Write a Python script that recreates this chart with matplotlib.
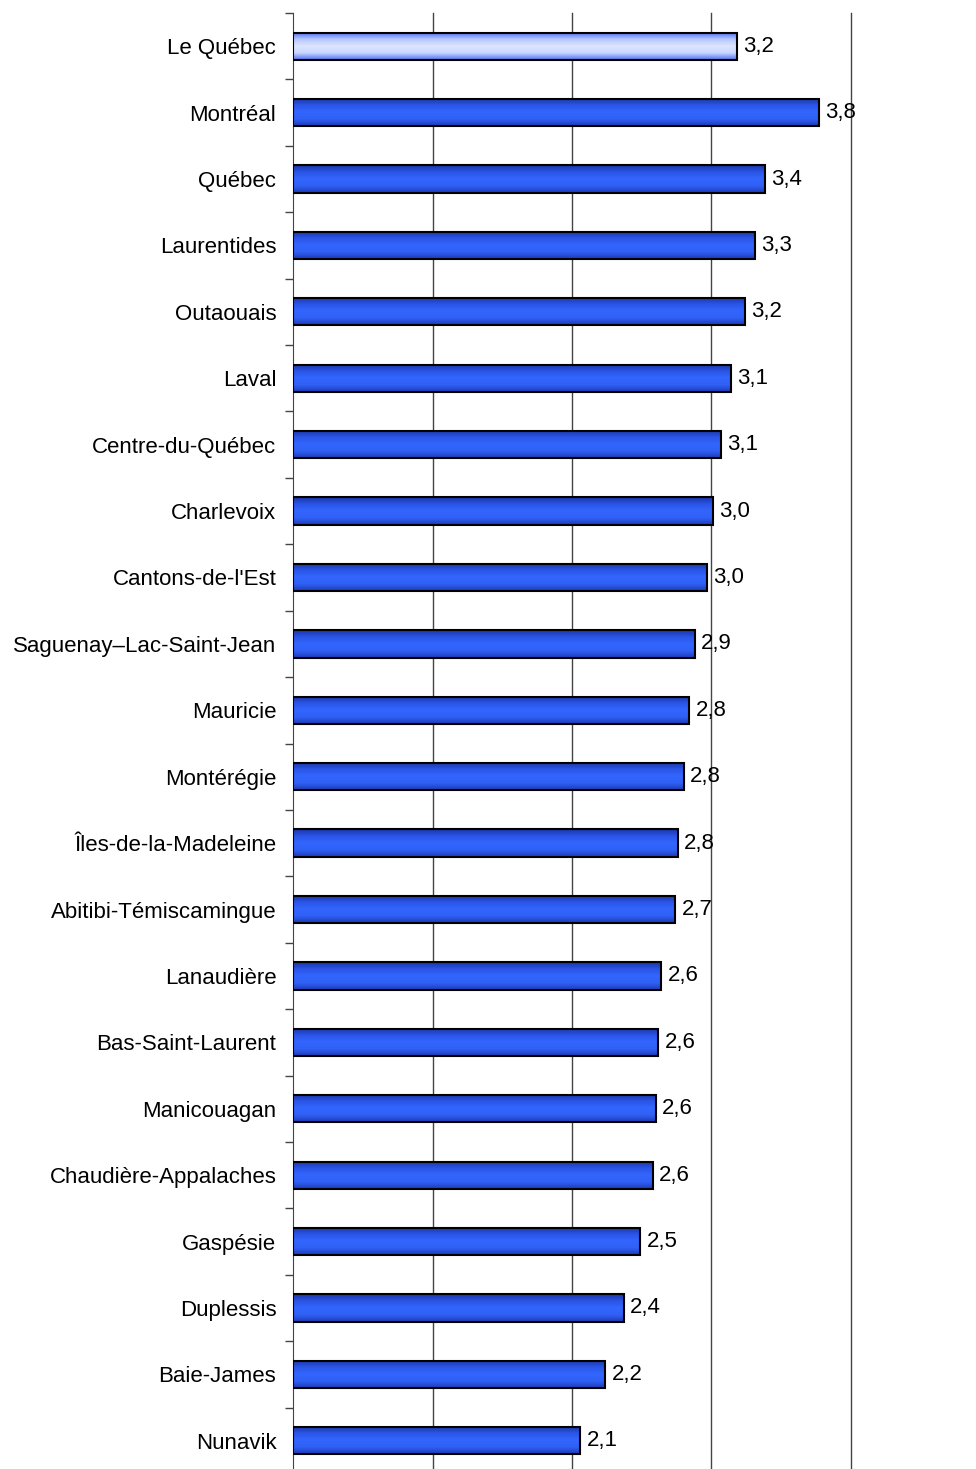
import numpy as np
import matplotlib.pyplot as plt
from matplotlib.colors import LinearSegmentedColormap

regions = ["Le Québec", "Montréal", "Québec", "Laurentides", "Outaouais", "Laval",
           "Centre-du-Québec", "Charlevoix", "Cantons-de-l'Est", "Saguenay–Lac-Saint-Jean",
           "Mauricie", "Montérégie", "Îles-de-la-Madeleine", "Abitibi-Témiscamingue",
           "Lanaudière", "Bas-Saint-Laurent", "Manicouagan", "Chaudière-Appalaches",
           "Gaspésie", "Duplessis", "Baie-James", "Nunavik"]
values = [3.18, 3.77, 3.38, 3.31, 3.24, 3.14, 3.07, 3.01, 2.97, 2.88,
          2.84, 2.80, 2.76, 2.74, 2.64, 2.62, 2.60, 2.58, 2.49, 2.37, 2.24, 2.06]
labels = ["3,2", "3,8", "3,4", "3,3", "3,2", "3,1", "3,1", "3,0", "3,0", "2,9",
          "2,8", "2,8", "2,8", "2,7", "2,6", "2,6", "2,6", "2,6", "2,5", "2,4", "2,2", "2,1"]

plt.rcParams['font.family'] = ['Liberation Sans', 'DejaVu Sans']

fig = plt.figure(figsize=(9.76, 14.69), dpi=100)
ax = fig.add_axes([293/976, -5/1469, (851-293)/976, (1469-13+5)/1469])

n = len(regions)
y = np.arange(n)
h = 0.41

blue = LinearSegmentedColormap.from_list("b", ["#1a36a8", "#2b55e6", "#3366ff", "#3060f5", "#1e3cb8"])
light = LinearSegmentedColormap.from_list("l", ["#4c6cf0", "#b4c6ff", "#dde6ff", "#c8d6ff", "#5070f0"])
grad = np.linspace(0, 1, 64).reshape(-1, 1)

bars = ax.barh(y, values, height=h, facecolor='none', edgecolor='black', linewidth=1.5, zorder=4)
for i, b in enumerate(bars):
    cmap = light if i == 0 else blue
    ax.imshow(grad, cmap=cmap, aspect='auto', interpolation='bilinear',
              extent=[0, values[i], y[i] + h/2, y[i] - h/2], zorder=3)
    ax.text(values[i] + 0.045, y[i], labels[i], va='center', ha='left', fontsize=16, zorder=5)

ax.set_xlim(0, 4)
ax.set_ylim(n - 0.5, -0.5)
ax.set_xticks([1, 2, 3, 4])
ax.set_xticklabels([])
ax.tick_params(axis='x', length=0)
for xv in [1, 2, 3, 4]:
    ax.axvline(xv, color='#444444', linewidth=1.0, zorder=1, clip_on=False)
ax.set_yticks(y)
ax.set_yticklabels(regions, fontsize=16)
ax.tick_params(axis='y', which='major', length=0, pad=12)
ax.set_yticks(np.arange(-0.5, n, 1), minor=True)
ax.tick_params(axis='y', which='minor', length=6, width=1, color='#444444')
for s in ['top', 'right', 'bottom']:
    ax.spines[s].set_visible(False)
ax.spines['left'].set_color('#444444')

fig.savefig('out.png', dpi=100)
